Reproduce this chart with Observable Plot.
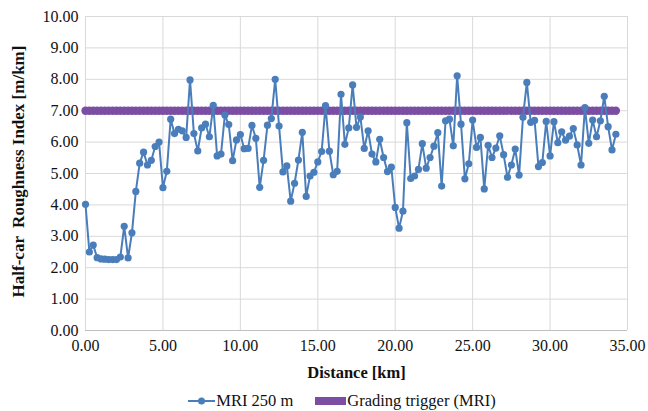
<!DOCTYPE html>
<html>
<head>
<meta charset="utf-8">
<script src="https://cdn.jsdelivr.net/npm/d3@7"></script>
<script src="https://cdn.jsdelivr.net/npm/@observablehq/plot@0.6"></script>
<style>
  html, body { margin: 0; padding: 0; background: #fff; }
  body { width: 648px; height: 411px; overflow: hidden; font-family: "Liberation Serif", "DejaVu Serif", serif; }
  #legend { display: flex; justify-content: center; align-items: center; gap: 22px; font-size: 16.5px; color: #111; margin-top: 7px; padding-left: 36px; line-height: 18px; }
  .item { display: flex; align-items: center; gap: 1px; }
</style>
</head>
<body>
<div id="chart"></div>
<div id="legend">
  <div class="item"><svg width="27" height="12"><line x1="0" y1="6" x2="27" y2="6" stroke="#4a7ebb" stroke-width="2"/><circle cx="13.5" cy="6" r="3.5" fill="#4a7ebb"/></svg><span>MRI 250 m</span></div>
  <div class="item"><svg width="31" height="12"><rect x="0" y="2" width="31" height="8" fill="#7b4ea3"/></svg><span>Grading trigger (MRI)</span></div>
</div>
<script>
const distanceKm = [0,0.25,0.5,0.75,1,1.25,1.5,1.75,2,2.25,2.5,2.75,3,3.25,3.5,3.75,4,4.25,4.5,4.75,
5,5.25,5.5,5.75,6,6.25,6.5,6.75,7,7.25,7.5,7.75,8,8.25,8.5,8.75,9,9.25,9.5,9.75,
10,10.25,10.5,10.75,11,11.25,11.5,11.75,12,12.25,12.5,12.75,13,13.25,13.5,13.75,14,14.25,14.5,14.75,
15,15.25,15.5,15.75,16,16.25,16.5,16.75,17,17.25,17.5,17.75,18,18.25,18.5,18.75,19,19.25,19.5,19.75,
20,20.25,20.5,20.75,21,21.25,21.5,21.75,22,22.25,22.5,22.75,23,23.25,23.5,23.75,24,24.25,24.5,24.75,
25,25.25,25.5,25.75,26,26.25,26.5,26.75,27,27.25,27.5,27.75,28,28.25,28.5,28.75,29,29.25,29.5,29.75,
30,30.25,30.5,30.75,31,31.25,31.5,31.75,32,32.25,32.5,32.75,33,33.25,33.5,33.75,34,34.25];

const mri250 = [4.02,2.50,2.72,2.32,2.28,2.27,2.26,2.26,2.26,2.34,3.32,2.31,3.11,4.43,5.33,5.68,5.27,5.42,5.86,6.00,
4.55,5.07,6.73,6.27,6.41,6.36,6.15,7.98,6.27,5.72,6.45,6.57,6.17,7.17,5.56,5.62,6.86,6.56,5.41,6.07,
6.24,5.79,5.80,6.53,6.12,4.56,5.42,6.54,6.75,8.00,6.51,5.05,5.24,4.12,4.69,5.43,6.31,4.27,4.92,5.04,
5.37,5.70,7.16,5.71,4.96,5.07,7.52,5.93,6.45,7.82,6.47,6.80,5.80,6.36,5.62,5.37,6.09,5.51,5.06,5.20,
3.92,3.26,3.80,6.62,4.84,4.92,5.13,5.95,5.17,5.51,5.87,6.30,4.60,6.68,6.73,5.88,8.11,6.57,4.83,5.31,
6.70,5.83,6.15,4.51,5.90,5.51,5.81,6.20,5.60,4.88,5.27,5.78,4.95,6.79,7.90,6.63,6.69,5.22,5.35,6.66,
5.56,6.65,5.98,6.33,6.06,6.19,6.43,5.91,5.27,7.10,5.96,6.70,6.17,6.68,7.46,6.49,5.75,6.25];

const gradingTrigger = 7.0;

const xTicks = [0,5,10,15,20,25,30,35];
const yTicks = [0,1,2,3,4,5,6,7,8,9,10];

const mriData = distanceKm.map((d, i) => ({d, v: mri250[i]}));
const trigData = distanceKm.map(d => ({d, v: gradingTrigger}));

const FONT = "'Liberation Serif', 'DejaVu Serif', serif";
const fmt = d3.format(".2f");
const chart = Plot.plot({
  width: 648,
  height: 385,
  marginLeft: 85,
  marginRight: 21,
  marginTop: 16,
  marginBottom: 55,
  style: `font-family: ${FONT}; font-size: 16px; color: #111; background: #fff;`,
  x: {domain: [0, 35]},
  y: {domain: [0, 10]},
  marks: [
    Plot.gridX(xTicks, {stroke: "#d9d9d9", strokeOpacity: 1}),
    Plot.gridY(yTicks, {stroke: "#d9d9d9", strokeOpacity: 1}),
    Plot.ruleY([0], {stroke: "#bfbfbf"}),
    Plot.axisX(xTicks, {tickSize: 0, tickPadding: 9, tickFormat: fmt, fontFamily: FONT, fontSize: 16, label: null}),
    Plot.axisY(yTicks, {tickSize: 0, tickPadding: 7, tickFormat: fmt, fontFamily: FONT, fontSize: 16, label: null}),
    Plot.line(trigData, {x: "d", y: "v", stroke: "#7b4ea3", strokeWidth: 3}),
    Plot.dot(trigData, {x: "d", y: "v", r: 4.2, fill: "#7b4ea3", stroke: "none"}),
    Plot.line(mriData, {x: "d", y: "v", stroke: "#4a7ebb", strokeWidth: 2}),
    Plot.dot(mriData, {x: "d", y: "v", r: 3.6, fill: "#4a7ebb", stroke: "none"}),
    Plot.text(["Distance [km]"], {frameAnchor: "bottom", dy: 47, fontFamily: FONT, fontSize: 16.5, fontWeight: "bold", fill: "#111"}),
    Plot.text(["Half-car  Roughness Index [m/km]"], {frameAnchor: "left", textAnchor: "middle", dx: -67, dy: -2, rotate: -90, fontFamily: FONT, fontSize: 17, fontWeight: "bold", fill: "#111"})
  ]
});
chart.querySelectorAll("text").forEach(t => t.style.whiteSpace = "pre");
document.getElementById("chart").appendChild(chart);
</script>
</body>
</html>
